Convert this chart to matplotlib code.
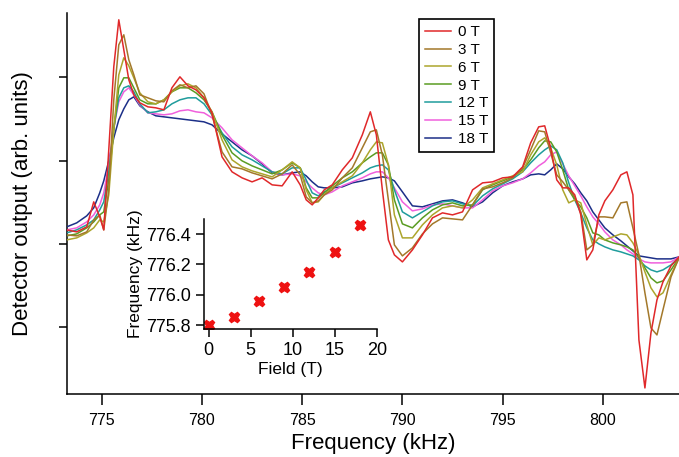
import numpy as np
import matplotlib
matplotlib.use("Agg")
import matplotlib.pyplot as plt

plt.rcParams['font.family'] = ['Liberation Sans', 'DejaVu Sans']

# frequency grid (kHz)
freq = [773.25, 773.75, 774.25, 774.6, 774.9, 775.1, 775.35, 775.6, 775.85, 776.1,
        776.35, 776.6, 776.9, 777.3, 777.7, 778.1, 778.5, 778.9, 779.3, 779.7,
        780.1, 780.5, 781.0, 781.5, 782.0, 782.5, 783.0, 783.5, 784.0, 784.5,
        784.9, 785.2, 785.5, 785.8, 786.1, 786.5, 787.0, 787.5, 788.0, 788.4,
        788.7, 789.0, 789.3, 789.6, 790.0, 790.5, 791.0, 791.5, 792.0, 792.5,
        793.0, 793.5, 794.0, 794.5, 795.0, 795.5, 796.0, 796.4, 796.8, 797.1,
        797.4, 797.7, 798.0, 798.3, 798.6, 798.9, 799.2, 799.5, 799.8, 800.1,
        800.5, 800.9, 801.2, 801.5, 801.8, 802.1, 802.4, 802.7, 803.0, 803.4, 803.8]

# detector output (arb. units)
out_0T = [1.70, 1.68, 1.73, 1.98, 1.83, 1.70, 2.50, 3.33, 3.80, 3.50,
          3.20, 3.05, 2.97, 2.93, 2.92, 2.90, 3.12, 3.23, 3.14, 3.10,
          3.02, 2.87, 2.43, 2.28, 2.22, 2.18, 2.22, 2.15, 2.14, 2.28,
          2.15, 2.00, 1.95, 2.02, 2.10, 2.15, 2.30, 2.42, 2.65, 2.88,
          2.65, 2.10, 1.60, 1.45, 1.38, 1.50, 1.65, 1.82, 1.87, 1.85,
          1.88, 2.10, 2.17, 2.18, 2.22, 2.23, 2.33, 2.57, 2.73, 2.74,
          2.52, 2.20, 2.12, 2.12, 2.05, 1.85, 1.40, 1.50, 1.85, 1.99,
          2.10, 2.25, 2.28, 2.05, 0.60, 0.12, 0.67, 1.00, 1.18, 1.34, 1.43]
out_3T = [1.65, 1.64, 1.68, 1.80, 1.85, 1.70, 2.10, 3.00, 3.55, 3.65,
          3.40, 3.25, 3.05, 3.02, 2.99, 2.98, 3.09, 3.15, 3.12, 3.14,
          3.06, 2.85, 2.48, 2.33, 2.31, 2.27, 2.24, 2.21, 2.26, 2.35,
          2.25, 2.03, 1.97, 1.99, 2.05, 2.10, 2.22, 2.32, 2.52, 2.68,
          2.70, 2.45, 2.00, 1.55, 1.44, 1.52, 1.66, 1.76, 1.82, 1.81,
          1.80, 1.95, 2.11, 2.13, 2.17, 2.22, 2.32, 2.50, 2.69, 2.68,
          2.47, 2.25, 2.18, 2.10, 2.03, 1.88, 1.50, 1.55, 1.83, 1.83,
          1.82, 1.97, 1.98, 1.72, 1.45, 1.07, 0.72, 0.65, 0.90, 1.23, 1.42]
out_6T = [1.60, 1.62, 1.67, 1.72, 1.80, 1.78, 2.05, 2.70, 3.25, 3.42,
          3.34, 3.22, 3.07, 2.98, 2.96, 3.00, 3.08, 3.14, 3.16, 3.12,
          3.02, 2.88, 2.60, 2.40, 2.33, 2.29, 2.26, 2.23, 2.30, 2.38,
          2.32, 2.10, 1.97, 1.98, 2.05, 2.12, 2.18, 2.24, 2.37, 2.50,
          2.58, 2.57, 2.35, 1.85, 1.62, 1.62, 1.75, 1.85, 1.92, 1.94,
          1.92, 2.00, 2.12, 2.16, 2.20, 2.24, 2.28, 2.45, 2.58, 2.62,
          2.52, 2.35, 2.10, 1.97, 2.00, 1.97, 1.75, 1.55, 1.62, 1.60,
          1.63, 1.66, 1.65, 1.57, 1.45, 1.28, 1.12, 1.03, 1.07, 1.25, 1.42]
out_9T = [1.64, 1.66, 1.72, 1.78, 1.85, 1.88, 2.20, 2.70, 3.12, 3.22,
          3.22, 3.12, 3.00, 2.96, 2.96, 3.00, 3.08, 3.12, 3.12, 3.07,
          3.00, 2.88, 2.65, 2.47, 2.39, 2.34, 2.30, 2.26, 2.30, 2.37,
          2.32, 2.12, 2.02, 2.02, 2.07, 2.14, 2.22, 2.28, 2.37, 2.43,
          2.47, 2.47, 2.35, 2.00, 1.76, 1.72, 1.82, 1.90, 1.95, 1.97,
          1.94, 1.95, 2.10, 2.15, 2.19, 2.23, 2.30, 2.40, 2.52, 2.59,
          2.58, 2.48, 2.30, 2.10, 2.00, 1.93, 1.82, 1.67, 1.65, 1.60,
          1.57, 1.55, 1.53, 1.50, 1.42, 1.32, 1.22, 1.17, 1.19, 1.30, 1.42]
out_12T = [1.67, 1.70, 1.75, 1.80, 1.90, 1.98, 2.28, 2.72, 3.02, 3.12,
           3.14, 3.08, 2.96, 2.87, 2.88, 2.90, 2.96, 3.00, 3.02, 3.02,
           2.96, 2.85, 2.67, 2.53, 2.45, 2.40, 2.34, 2.28, 2.26, 2.32,
           2.32, 2.20, 2.07, 2.04, 2.08, 2.12, 2.17, 2.22, 2.27, 2.32,
           2.34, 2.35, 2.30, 2.10, 1.88, 1.82, 1.88, 1.94, 1.98, 1.99,
           1.96, 1.94, 2.04, 2.11, 2.16, 2.21, 2.28, 2.37, 2.45, 2.50,
           2.54, 2.50, 2.37, 2.17, 2.00, 1.87, 1.72, 1.60, 1.56, 1.53,
           1.50, 1.48, 1.46, 1.44, 1.40, 1.34, 1.30, 1.28, 1.30, 1.35, 1.42]
out_15T = [1.70, 1.72, 1.78, 1.85, 1.95, 2.07, 2.35, 2.72, 2.98, 3.08,
           3.12, 3.05, 2.95, 2.87, 2.86, 2.85, 2.86, 2.89, 2.90, 2.88,
           2.87, 2.82, 2.72, 2.60, 2.52, 2.44, 2.37, 2.28, 2.25, 2.26,
           2.24, 2.18, 2.12, 2.07, 2.05, 2.08, 2.14, 2.18, 2.22, 2.26,
           2.28, 2.28, 2.22, 2.12, 1.98, 1.89, 1.91, 1.95, 1.96, 1.94,
           1.92, 1.92, 2.00, 2.09, 2.14, 2.17, 2.21, 2.27, 2.34, 2.38,
           2.45, 2.48, 2.36, 2.24, 2.14, 2.04, 1.93, 1.83, 1.76, 1.68,
           1.60, 1.55, 1.50, 1.46, 1.41, 1.38, 1.37, 1.37, 1.37, 1.38, 1.43]
out_18T = [1.73, 1.77, 1.84, 1.92, 2.07, 2.19, 2.39, 2.62, 2.80, 2.91,
           3.00, 3.03, 2.94, 2.88, 2.84, 2.83, 2.82, 2.81, 2.80, 2.79,
           2.78, 2.75, 2.66, 2.58, 2.50, 2.44, 2.36, 2.27, 2.25, 2.27,
           2.28, 2.24, 2.18, 2.13, 2.12, 2.12, 2.13, 2.17, 2.19, 2.21,
           2.22, 2.23, 2.22, 2.19, 2.08, 1.94, 1.93, 1.96, 1.99, 2.00,
           1.97, 1.93, 1.98, 2.07, 2.14, 2.18, 2.21, 2.25, 2.26, 2.25,
           2.30, 2.36, 2.31, 2.23, 2.16, 2.07, 1.99, 1.88, 1.80, 1.72,
           1.65, 1.59, 1.54, 1.49, 1.44, 1.43, 1.42, 1.41, 1.41, 1.41, 1.43]

labels = ['0 T', '3 T', '6 T', '9 T', '12 T', '15 T', '18 T']
colors = ['#e0282a', '#a3782a', '#aca52c', '#5a9c22', '#1f9c9c', '#f060dc', '#1c2f88']

# inset: resonance frequency vs field
field = [0, 3, 6, 9, 12, 15, 18]
res_freq = [775.80, 775.85, 775.96, 776.05, 776.15, 776.28, 776.46]

series = [out_0T, out_3T, out_6T, out_9T, out_12T, out_15T, out_18T]

fig = plt.figure(figsize=(6.79, 4.57), dpi=100)
ax = fig.add_axes([0.0982, 0.138, 0.9018, 0.834])

for i, (y, lab, c) in enumerate(zip(series, labels, colors)):
    ax.plot(freq, y, color=c, lw=1.1, label=lab, zorder=10 - i)

ax.set_xlim(773.25, 803.8)
ax.set_ylim(0.06, 3.87)
ax.set_xticks([775, 780, 785, 790, 795, 800])
ax.set_yticks(np.arange(0.725, 3.3, 0.834))
ax.set_yticklabels([])
for s in ['top', 'right']:
    ax.spines[s].set_visible(False)
for s in ['left', 'bottom']:
    ax.spines[s].set_linewidth(1.1)
ax.tick_params(axis='x', direction='out', length=8, width=1.1, pad=6, labelsize=11.5)
ax.tick_params(axis='y', direction='out', length=6, width=1.1)
ax.set_xlabel('Frequency (kHz)', fontsize=16, labelpad=3)
ax.set_ylabel('Detector output (arb. units)', fontsize=16)
ax.yaxis.set_label_coords(-0.055, 0.5)

leg = ax.legend(loc='upper left', bbox_to_anchor=(419 / 679, 1 - 19 / 457),
                bbox_transform=fig.transFigure, fontsize=11, fancybox=False,
                edgecolor='black', framealpha=1, borderaxespad=0,
                handlelength=1.7, handletextpad=0.45, labelspacing=0.25,
                borderpad=0.4)
leg.get_frame().set_linewidth(1.2)

# inset
axi = fig.add_axes([0.3009, 0.2801, 0.2539, 0.2407])
axi.set_facecolor('none')
axi.plot(field, res_freq, 'X', color='#ee1111', ms=7.5, mec='#ee1111')
axi.set_xlim(-0.5, 20)
axi.set_ylim(775.774, 776.5)
axi.set_xticks([0, 5, 10, 15, 20])
axi.set_yticks([775.8, 776.0, 776.2, 776.4])
axi.set_yticklabels(['775.8', '776.0', '776.2', '776.4'])
for s in ['top', 'right']:
    axi.spines[s].set_visible(False)
for s in ['left', 'bottom']:
    axi.spines[s].set_linewidth(1.1)
axi.tick_params(direction='out', length=6, width=1.1, labelsize=13)
axi.set_xlabel('Field (T)', fontsize=12.5, labelpad=2)
axi.set_ylabel('Frequency (kHz)', fontsize=12.5, labelpad=2)

fig.savefig('out.png', dpi=100)
